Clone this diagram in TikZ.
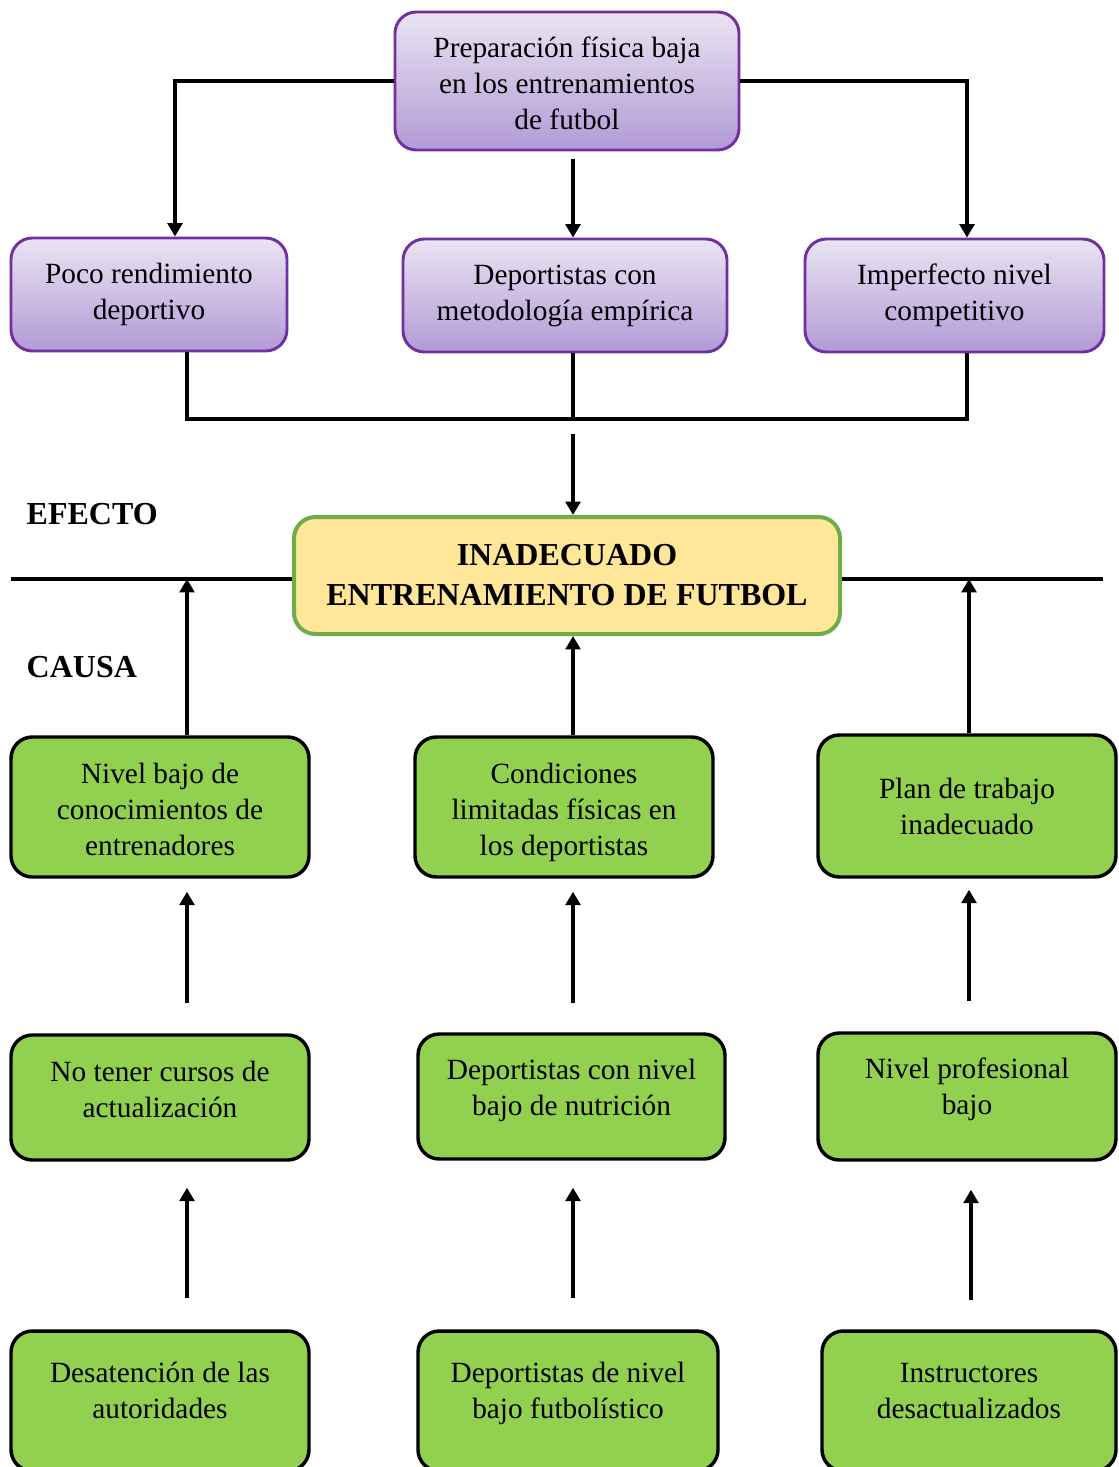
\documentclass[tikz,border=0pt]{standalone}
\usepackage{fontspec}
\setmainfont{Liberation Serif}
\usepackage{tikz}
\usetikzlibrary{
  	positioning,
  	arrows.meta,
  	calc
  }
\definecolor{lila}{HTML}{7030A0}
\definecolor{lilatop}{HTML}{EAE4F2}
\definecolor{lilabot}{HTML}{B29AD6}
\definecolor{verde}{HTML}{92D050}
\definecolor{verdeosc}{HTML}{70AD47}
\definecolor{amarillo}{HTML}{FFE699}
\newcommand{\subir}[2]{\raisebox{#1}[\height][\depth]{\begin{tabular}{@{}c@{}}#2\end{tabular}}}
\tikzstyle{efecto}=[draw=lila,line width=2.2pt,rounded corners=16pt,top color=lilatop,bottom color=lilabot,align=center,font=\fontsize{22}{27}\selectfont]
\tikzstyle{causa}=[draw=black,line width=2.6pt,rounded corners=16pt,fill=verde,align=center,font=\fontsize{22}{27}\selectfont]
\tikzstyle{linea}=[line width=2.5pt]
\tikzstyle{flecha}=[line width=2.5pt,-{Triangle[length=10pt,width=11pt]}]

\begin{document}
\begin{tikzpicture}[x=0.75pt,y=-0.75pt]
\useasboundingbox (0,0) rectangle (1118,1467);
% efectos
\node[efecto,minimum width=258pt,minimum height=103.5pt] (prep) at (567,81)
  {\subir{-3.75pt}{Preparación física baja\\en los entrenamientos\\de futbol}};
\node[efecto,minimum width=207pt,minimum height=84.75pt] (poco) at (149,294.5)
  {Poco rendimiento\\deportivo};
\node[efecto,minimum width=243pt,minimum height=84.75pt] (metod) at (565,295.5)
  {Deportistas con\\metodología empírica};
\node[efecto,minimum width=224.25pt,minimum height=84.75pt] (imperf) at (954.5,295.5)
  {Imperfecto nivel\\competitivo};
% problema central
\node[draw=verdeosc,line width=3pt,rounded corners=16pt,fill=amarillo,align=center,
  minimum width=409.5pt,minimum height=87.75pt,font=\fontsize{24}{30}\selectfont\bfseries]
  (inad) at (567,575.5) {INADECUADO\\ENTRENAMIENTO DE FUTBOL};
\node[anchor=west,font=\fontsize{24}{28}\selectfont\bfseries] (efe) at (22,514) {EFECTO};
\node[anchor=west,font=\fontsize{24}{28}\selectfont\bfseries] (cau) at (22,667) {CAUSA};
% causas
\node[causa,minimum width=223.5pt,minimum height=105pt] (nivel) at (160,807)
  {\subir{-3.75pt}{Nivel bajo de\\conocimientos de\\entrenadores}};
\node[causa,minimum width=223.5pt,minimum height=105pt] (cond) at (564,807)
  {\subir{-3.75pt}{Condiciones\\limitadas físicas en\\los deportistas}};
\node[causa,minimum width=223.5pt,minimum height=106.5pt] (plan) at (967,806)
  {Plan de trabajo\\inadecuado};
\node[causa,minimum width=223.5pt,minimum height=93.75pt] (cursos) at (160,1097.5)
  {\subir{3.75pt}{No tener cursos de\\actualización}};
\node[causa,minimum width=230.25pt,minimum height=93.75pt] (nutri) at (571.5,1096.5)
  {\subir{4.5pt}{Deportistas con nivel\\bajo de nutrición}};
\node[causa,minimum width=223.5pt,minimum height=95.25pt] (profes) at (967,1096.5)
  {\subir{5.25pt}{Nivel profesional\\bajo}};
\node[causa,minimum width=223.5pt,minimum height=105pt] (desat) at (160,1401)
  {\subir{6pt}{Desatención de las\\autoridades}};
\node[causa,minimum width=225pt,minimum height=105pt] (futb) at (568,1401)
  {\subir{6pt}{Deportistas de nivel\\bajo futbolístico}};
\node[causa,minimum width=220.5pt,minimum height=105pt] (instr) at (969,1401)
  {\subir{6pt}{Instructores\\desactualizados}};
% columnas
\coordinate (cl) at (187,0);
\coordinate (cm) at (573,0);
\coordinate (cr) at (967,0);
\coordinate (crr) at (969,0);
\coordinate (union) at (573,419);
\coordinate (eje) at (0,579);
% conectores de efectos
\draw[flecha] (prep.west) -| ($(poco.north)+(26,0)$);
\draw[flecha] (prep.east) -| ($(imperf.north)+(12.5,0)$);
\draw[flecha] ($(prep.south -| cm)+(0,8)$) -- (metod.north -| cm);
\draw[linea] (poco.south -| cl) -- (cl |- union) -- (cr |- union) -- (imperf.south -| cr);
\draw[linea] (metod.south -| cm) -- (union);
\draw[flecha] ($(union)+(0,15)$) -- (inad.north -| cm);
\draw[linea] (11,579) -- (inad.west |- eje);
\draw[linea] (inad.east |- eje) -- (1103,579);
% conectores de causas
\draw[flecha] (nivel.north -| cl) -- (cl |- eje);
\draw[flecha] (cond.north -| cm) -- (inad.south -| cm);
\draw[flecha] (plan.north -| crr) -- (crr |- eje);
\draw[flecha] ($(cursos.north -| cl)+(0,-30)$) -- ($(nivel.south -| cl)+(0,13)$);
\draw[flecha] ($(nutri.north -| cm)+(0,-29)$) -- ($(cond.south -| cm)+(0,13)$);
\draw[flecha] ($(profes.north -| crr)+(0,-30)$) -- ($(plan.south -| crr)+(0,11)$);
\draw[flecha] ($(desat.north -| cl)+(0,-31)$) -- ($(cursos.south -| cl)+(0,26)$);
\draw[flecha] ($(futb.north -| cm)+(0,-31)$) -- ($(nutri.south -| cm)+(0,27)$);
\draw[flecha] ($(instr.north -| 971,0)+(0,-29)$) -- ($(profes.south -| 971,0)+(0,28)$);
\end{tikzpicture}
\end{document}
